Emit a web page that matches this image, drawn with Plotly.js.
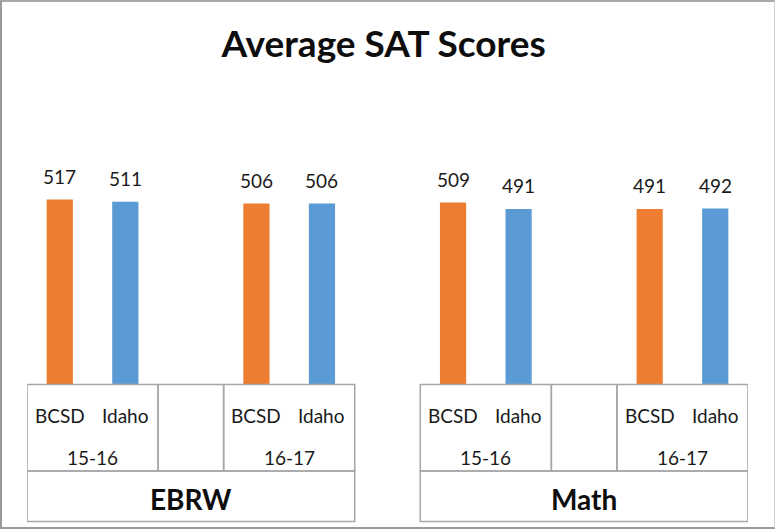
<!DOCTYPE html>
<html>
<head>
<meta charset="utf-8">
<script src="https://cdn.plot.ly/plotly-3.0.1.min.js"></script>
<style>
  html, body { margin: 0; padding: 0; background: #fff; }
  #wrap { position: relative; width: 775px; height: 529px; }
  #chart { width: 775px; height: 529px; }
  #frame { position: absolute; left: 0; top: 0; width: 775px; height: 529px; box-sizing: border-box;
           border-left: 2px solid #9a9a9a; border-top: 2px solid #a8a8a8; border-bottom: 2px solid #9a9a9a;
           border-right: 1px solid #d0d0d0; pointer-events: none; }
</style>
</head>
<body>
<div id="wrap"><div id="chart"></div><div id="frame"></div></div>
<script>
// ---- data ----
const subjects = ["EBRW", "Math"];
const years = ["15-16", "16-17"];
const schools = ["BCSD", "Idaho"];
// values ordered: EBRW 15-16, EBRW 16-17, Math 15-16, Math 16-17
const bcsd  = [517, 506, 509, 491];
const idaho = [511, 506, 491, 492];

// ---- layout helpers ----
const W = 775, H = 529;
const mL = 27, mR = 27, mT = 170, mB = 145;
const plotH = H - mT - mB;
const yMax = 600;
const py = px => -px / plotH;   // pixels below the axis -> paper units

// slot positions: each subject takes 5 slots + 1 gap slot
function slot(si, yi, ki) { return si * 6 + yi * 3 + ki; }

const bx = [], by = [], ix = [], iy = [];
subjects.forEach((s, si) => years.forEach((y, yi) => {
  const idx = si * 2 + yi;
  bx.push(slot(si, yi, 0)); by.push(bcsd[idx]);
  ix.push(slot(si, yi, 1)); iy.push(idaho[idx]);
}));

const orange = "#ED7D31", blue = "#5B9BD5";
const traces = [
  { type: "bar", x: bx, y: by, name: schools[0], marker: { color: orange }, width: 0.4, hoverinfo: "y" },
  { type: "bar", x: ix, y: iy, name: schools[1], marker: { color: blue }, width: 0.4, hoverinfo: "y" }
];

const font = "Lato, 'Open Sans', sans-serif";
const txtColor = "#1a1a1a";
const annotations = [];
// value labels
[[bx, by], [ix, iy]].forEach(([xs, ys]) => xs.forEach((x, i) => {
  annotations.push({ x: x, y: ys[i], xref: "x", yref: "y", text: String(ys[i]), showarrow: false,
    yanchor: "middle", yshift: 23, font: { family: font, size: 19, color: txtColor } });
}));

const shapes = [];
const lineStyle = { color: "#a6a6a6", width: 1.5 };
const rowTop = 0.5, rowMid = 87, rowBot = 137.5;
subjects.forEach((s, si) => {
  years.forEach((yr, yi) => {
    schools.forEach((sc, ki) => {
      annotations.push({ x: slot(si, yi, ki), y: py(31), xref: "x", yref: "paper", text: sc, showarrow: false,
        yanchor: "middle", font: { family: font, size: 19, color: txtColor } });
    });
    const x0 = slot(si, yi, 0) - 0.5, x1 = slot(si, yi, 1) + 0.5;
    shapes.push({ type: "rect", xref: "x", yref: "paper", x0: x0, x1: x1, y0: py(rowTop), y1: py(rowMid), line: lineStyle });
    annotations.push({ x: (x0 + x1) / 2, y: py(73), xref: "x", yref: "paper", text: yr, showarrow: false,
      yanchor: "middle", font: { family: font, size: 19, color: txtColor } });
  });
  // blank middle cell
  shapes.push({ type: "rect", xref: "x", yref: "paper", x0: slot(si, 0, 1) + 0.5, x1: slot(si, 1, 0) - 0.5,
    y0: py(rowTop), y1: py(rowMid), line: lineStyle });
  // subject cell
  const sx0 = slot(si, 0, 0) - 0.5, sx1 = slot(si, 1, 1) + 0.5;
  shapes.push({ type: "rect", xref: "x", yref: "paper", x0: sx0, x1: sx1, y0: py(rowMid), y1: py(rowBot), line: lineStyle });
  annotations.push({ x: (sx0 + sx1) / 2, y: py(115), xref: "x", yref: "paper", text: "<b>" + s + "</b>", showarrow: false,
    yanchor: "middle", font: { family: font, size: 28, color: "#0d0d0d" } });
});

const layout = {
  width: W, height: H,
  margin: { l: mL, r: mR, t: mT, b: mB, pad: 0 },
  paper_bgcolor: "#ffffff", plot_bgcolor: "#ffffff",
  title: { text: "<b>Average SAT Scores</b>", x: 0.495, xanchor: "center", y: 1 - 44 / H, yanchor: "middle",
           yref: "container", font: { family: font, size: 37, color: "#0d0d0d" } },
  showlegend: false,
  barmode: "overlay",
  xaxis: { range: [-0.5, 10.5], showticklabels: false, showgrid: false, zeroline: false, showline: false, ticks: "", fixedrange: true },
  yaxis: { range: [0, yMax], visible: false, showgrid: false, zeroline: false, fixedrange: true },
  shapes: shapes,
  annotations: annotations
};

Plotly.newPlot("chart", traces, layout, { displayModeBar: false, staticPlot: true });
</script>
</body>
</html>
